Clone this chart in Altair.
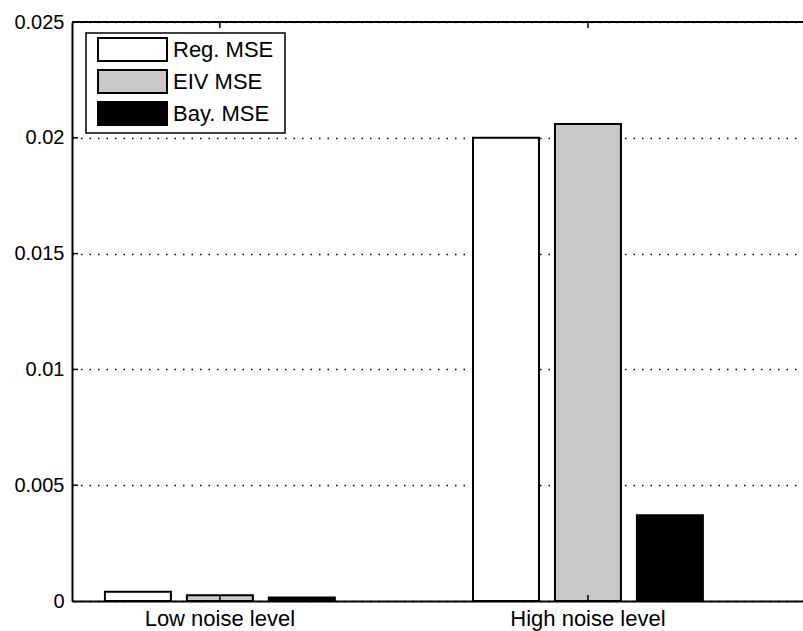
import altair as alt
import pandas as pd

# Mean squared error per method at two noise levels
levels = ["Low noise level", "High noise level"]
methods = ["Reg. MSE", "EIV MSE", "Bay. MSE"]
mse_low = [0.00040, 0.00025, 0.00015]
mse_high = [0.0200, 0.0206, 0.0037]

fills = ["#ffffff", "#c8c8c8", "#000000"]
y_ticks = [0, 0.005, 0.01, 0.015, 0.02, 0.025]

rows = []
for lvl, vals in zip(levels, [mse_low, mse_high]):
    for m, v in zip(methods, vals):
        rows.append({"level": lvl, "method": m, "mse": v})
df = pd.DataFrame(rows)
tick_df = pd.DataFrame({"t": y_ticks[1:-1]})
lvl_df = pd.DataFrame({"level": levels})

FONT = "Liberation Sans"
W, H = 731, 579

x_scale = alt.Scale(domain=levels, paddingInner=0.332, paddingOuter=0.159, align=0.213)
y_scale = alt.Scale(domain=[0, 0.025], nice=False)

bars = alt.Chart(df).mark_bar(stroke="black", strokeWidth=2, opacity=1).encode(
    x=alt.X("level:N", scale=x_scale, sort=levels,
            axis=alt.Axis(title=None, labelAngle=0, ticks=False, tickSize=0,
                          labelPadding=7, labelFontSize=22, labelFont=FONT,
                          labelColor="black", domainColor="black", domainWidth=2)),
    xOffset=alt.XOffset("method:N", sort=methods,
                        scale=alt.Scale(paddingInner=0.195, paddingOuter=0.0975)),
    y=alt.Y("mse:Q", scale=y_scale,
            axis=alt.Axis(title=None, values=y_ticks, format="~g", ticks=False, tickSize=0,
                          labelPadding=8, labelFontSize=20, labelFont=FONT,
                          labelColor="black", domainColor="black", domainWidth=2,
                          grid=True, gridColor="black", gridDash=[1.5, 7],
                          gridWidth=1.5, gridOpacity=1)),
    color=alt.Color("method:N", sort=methods,
                    scale=alt.Scale(domain=methods, range=fills),
                    legend=alt.Legend(orient="none", legendX=14, legendY=11,
                                      title=" ", titleOrient="right",
                                      titleFontSize=1, titlePadding=8)),
)

# top frame line
top_rule = alt.Chart(pd.DataFrame({"t": [y_ticks[-1]]})).mark_rule(
    color="black", strokeWidth=2).encode(y=alt.Y("t:Q", scale=y_scale))

# inward tick marks on the left axis
y_tick_marks = alt.Chart(tick_df).mark_rule(color="black", strokeWidth=1.5).encode(
    y=alt.Y("t:Q", scale=y_scale),
    x=alt.value(0), x2=alt.value(6))

# inward tick marks at the category centres, top and bottom
x_top = alt.Chart(lvl_df).mark_rule(color="black", strokeWidth=1.5).encode(
    x=alt.X("level:N", scale=x_scale, sort=levels, bandPosition=0.5),
    y=alt.value(0), y2=alt.value(6))
x_bot = alt.Chart(lvl_df).mark_rule(color="black", strokeWidth=1.5).encode(
    x=alt.X("level:N", scale=x_scale, sort=levels, bandPosition=0.5),
    y=alt.value(H), y2=alt.value(H - 6))

chart = alt.layer(bars, y_tick_marks, x_top, x_bot, top_rule).properties(
    width=W, height=H,
    autosize=alt.AutoSizeParams(type="none"),
    padding={"left": 72, "top": 22, "right": 0, "bottom": 30},
    background="white",
).configure_view(strokeWidth=0).configure_legend(
    strokeColor="black", strokeWidth=1.5, fillColor="white", padding=4,
    symbolType="M-3,-1H3V1H-3Z", symbolSize=529,
    symbolStrokeColor="black", symbolStrokeWidth=2, symbolOpacity=1,
    symbolOffset=30, labelOffset=28, rowPadding=1,
    labelFont=FONT, labelFontSize=22, labelColor="black",
)

chart.save("out.html", embed_options={"renderer": "svg", "actions": False})
